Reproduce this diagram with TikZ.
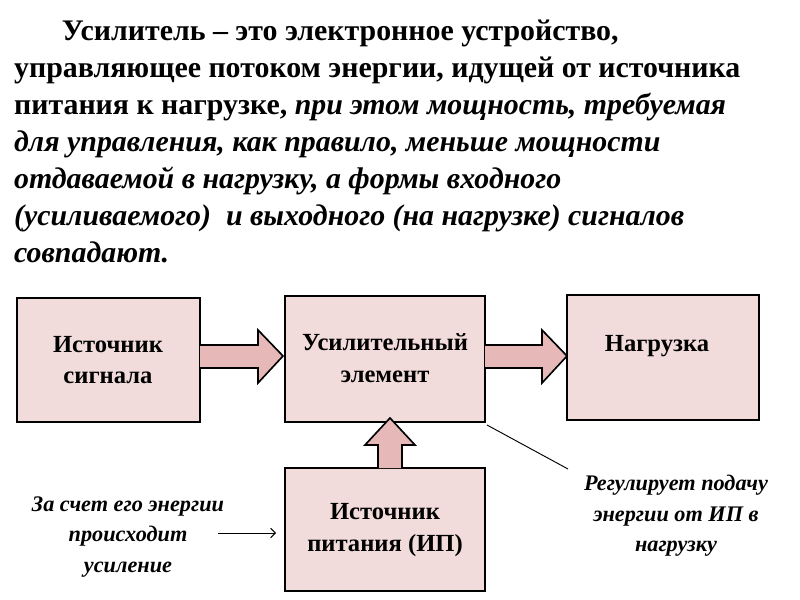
\documentclass[tikz,border=0pt]{standalone}
\usepackage{fontspec}
\setmainfont{Liberation Serif}
\usetikzlibrary{arrows.meta}
\definecolor{boxpink}{RGB}{242,220,219}
\definecolor{arrowpink}{RGB}{230,185,184}
\begin{document}
\begin{tikzpicture}[x=0.3mm, y=-0.3mm,
    block text/.style={font=\fontsize{21}{27}\selectfont\bfseries, align=center},
    note/.style={font=\fontsize{19}{26}\selectfont\bfseries\itshape, align=center},
    fat arrow/.style={draw, fill=arrowpink, line width=1.4pt},
    box/.style={draw, line width=1.6pt, fill=boxpink}
]
\useasboundingbox (0,0) rectangle (800,600);

% Definition
\node[anchor=north west, align=left, font=\fontsize{25.5}{31.5}\selectfont\bfseries] (def) at (10,16)
  {\hspace*{1.6em}Усилитель -- это электронное устройство,\\
   управляющее потоком энергии, идущей от источника\\
   питания к нагрузке, \textit{при этом мощность, требуемая}\\
   \textit{для управления, как правило, меньше мощности}\\
   \textit{отдаваемой в нагрузку, а формы входного}\\
   \textit{(усиливаемого)\ \ и выходного (на нагрузке) сигналов}\\
   \textit{совпадают.}};

% Blocks
\draw[box] (17,298) rectangle (200,422);
\node[block text] (src) at (108,360) {Источник\\сигнала};
\draw[box] (285,296) rectangle (485,422);
\node[block text] (amp) at (385,358) {Усилительный\\элемент};
\draw[box] (567,295) rectangle (759,420);
\node[block text] (load) at (657,346) {Нагрузка};
\draw[box] (285,468) rectangle (485,591);
\node[block text] (pwr) at (385,530) {Источник\\питания (ИП)};

% Fat arrows
\draw[fat arrow] (200,345) -- (258,345) -- (258,330) -- (283,356) -- (258,383) -- (258,368) -- (200,368);
\draw[fat arrow] (485,345) -- (542,345) -- (542,330) -- (567,356) -- (542,383) -- (542,368) -- (485,368);
\draw[fat arrow] (378,468) -- (378,445) -- (365,445) -- (390,418) -- (415,445) -- (402,445) -- (402,468);

% Notes
\node[note] (gain) at (128,537) {За счет его энергии\\происходит\\усиление};
\coordinate (gainEnd) at (276,533);
\draw[thick, -{Straight Barb[length=4pt]}] (218,533) -- (gainEnd);
\node[note] (ctrl) at (676,516) {Регулирует подачу\\энергии от ИП в\\нагрузку};
\coordinate (ampCorner) at (487,425);
\draw[thick] (568,469) -- (ampCorner);
\end{tikzpicture}
\end{document}
